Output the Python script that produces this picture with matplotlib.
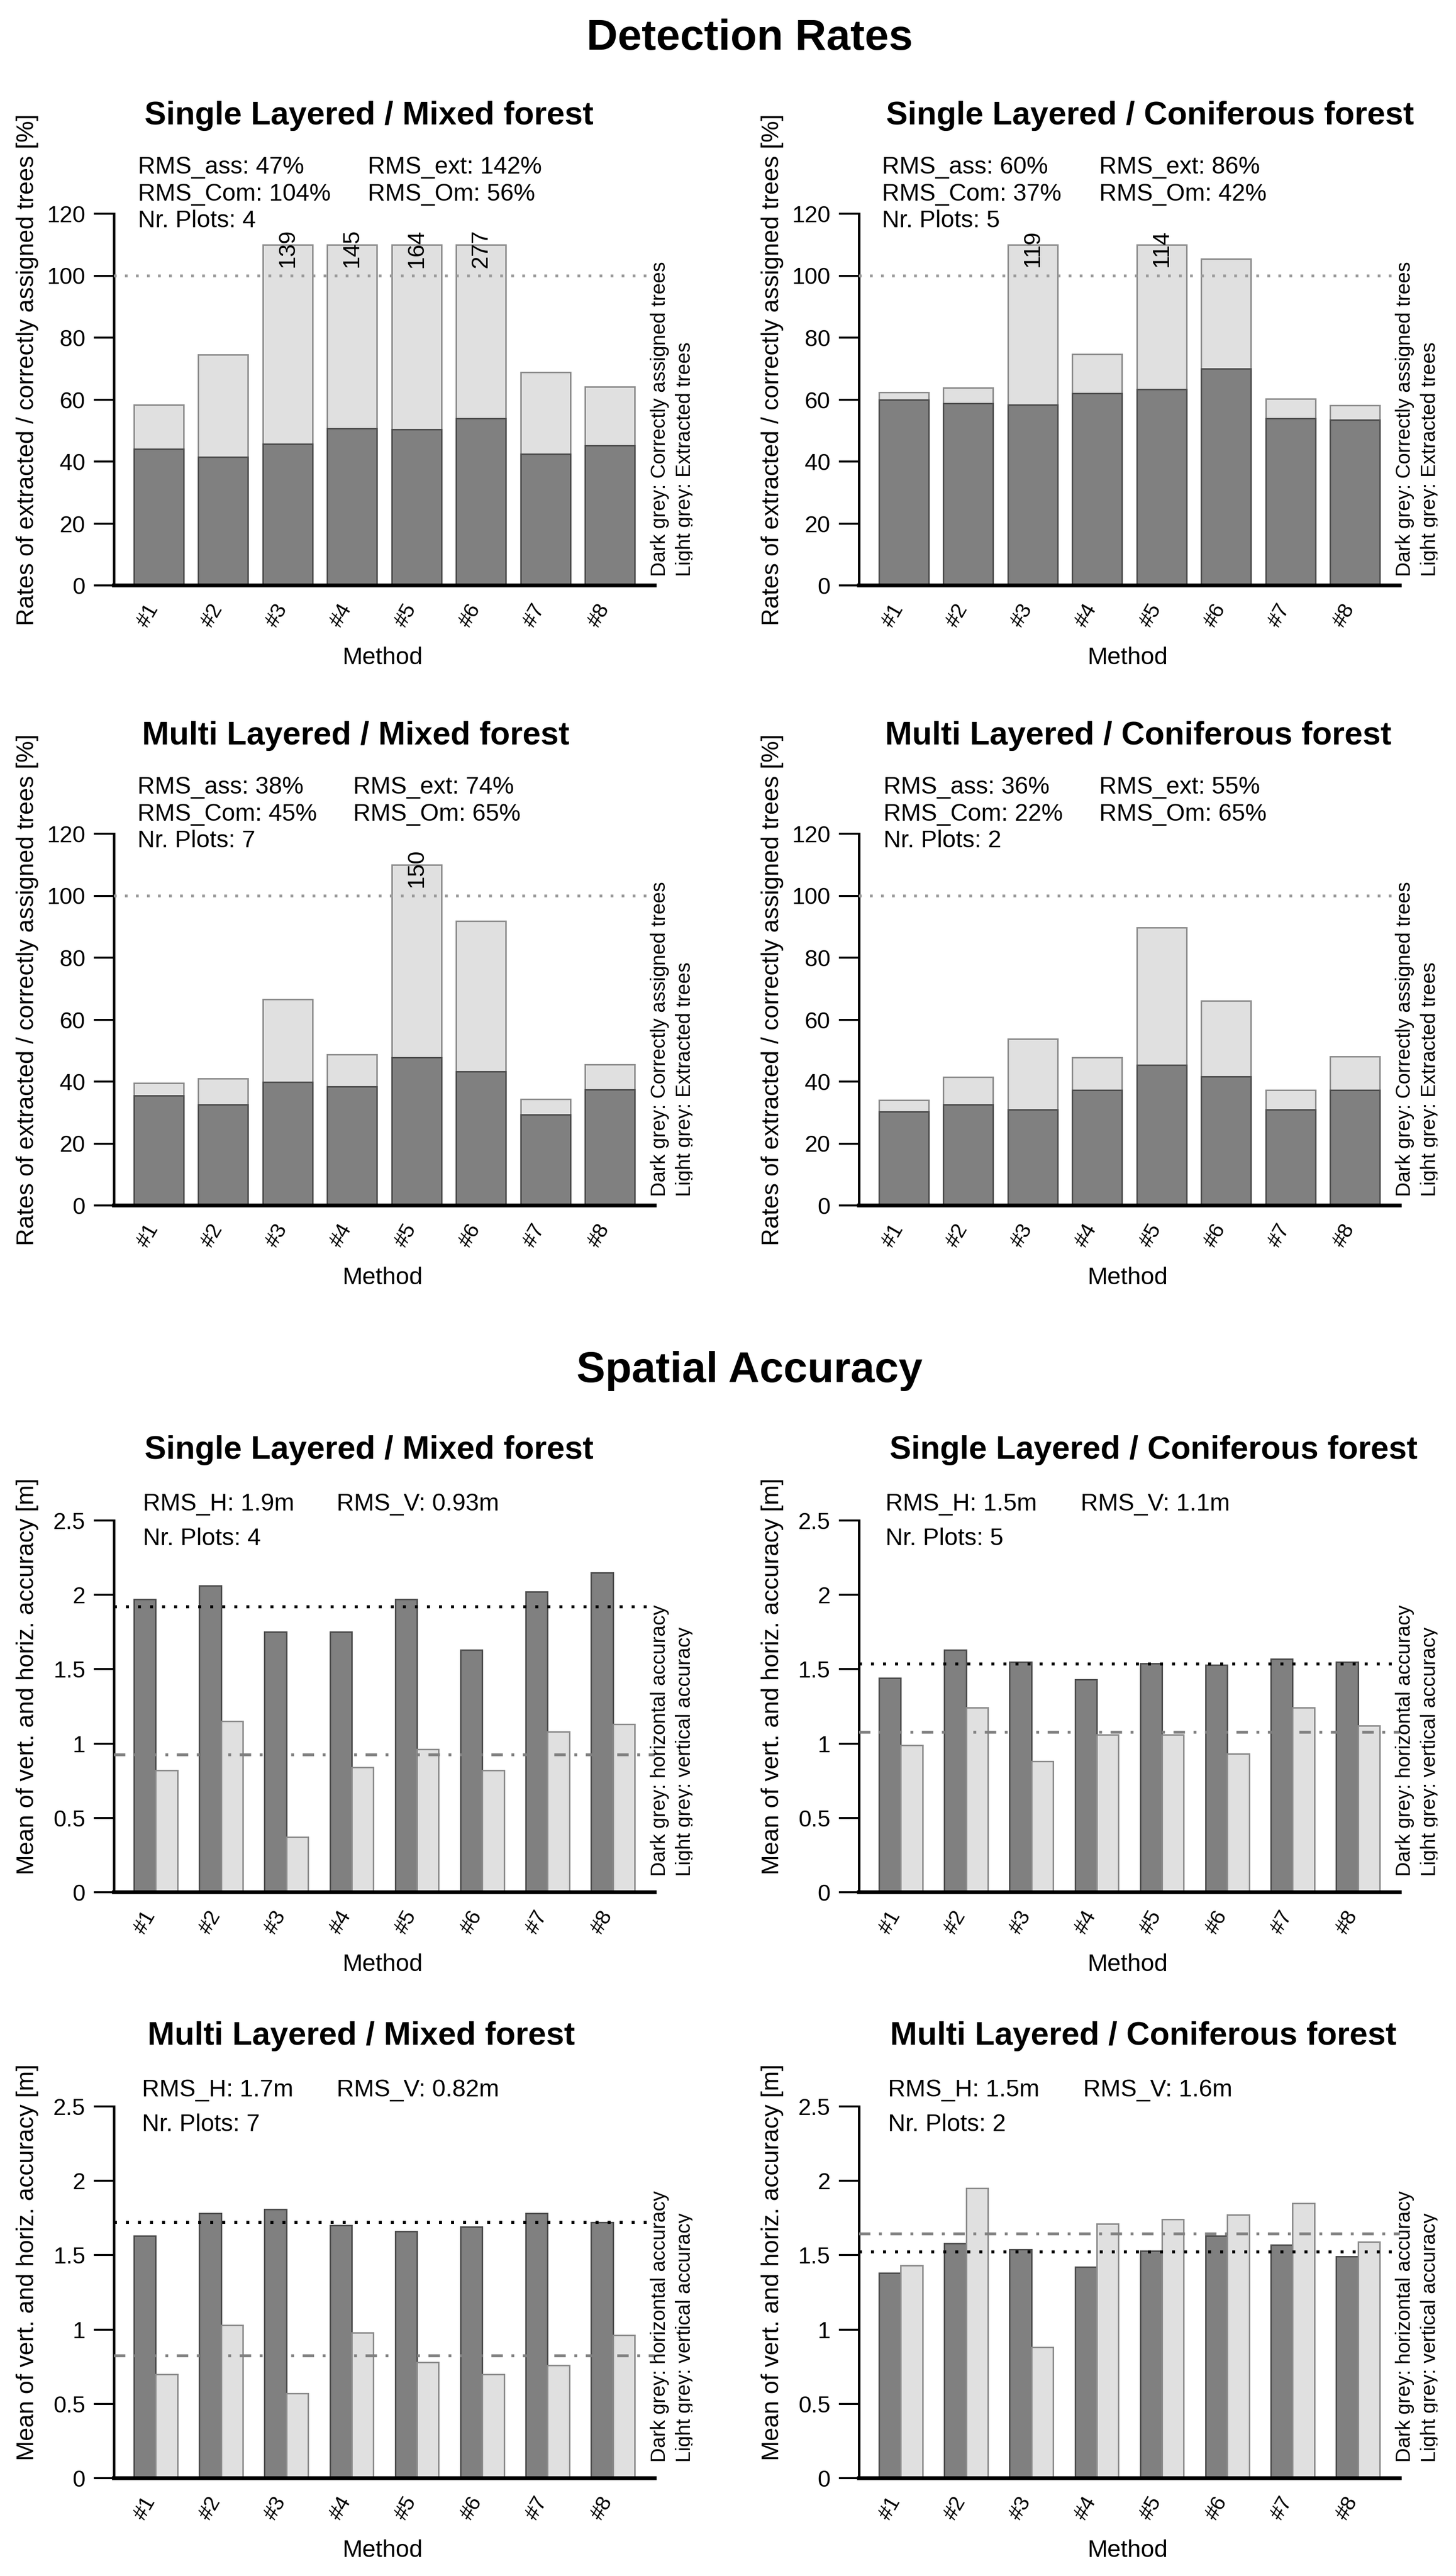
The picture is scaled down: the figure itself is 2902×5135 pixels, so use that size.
import numpy as np
import matplotlib
matplotlib.use("Agg")
import matplotlib.pyplot as plt
from matplotlib.transforms import Bbox, TransformedBbox, ScaledTranslation

# ---------------------------------------------------------------------------
# Data
# ---------------------------------------------------------------------------
methods = ["#1", "#2", "#3", "#4", "#5", "#6", "#7", "#8"]

panel_titles = [
    "Single Layered / Mixed forest",
    "Single Layered / Coniferous forest",
    "Multi Layered / Mixed forest",
    "Multi Layered / Coniferous forest",
]

# Detection rates [%]: extracted trees (light) and correctly assigned (dark)
det_extracted = [
    [58.3, 74.5, 139, 145, 164, 277, 68.8, 64.2],
    [62.4, 63.8, 119, 74.7, 114, 105.4, 60.2, 58.1],
    [39.5, 40.9, 66.6, 48.7, 150, 91.9, 34.4, 45.5],
    [34.0, 41.4, 53.8, 47.7, 89.7, 66.1, 37.2, 48.1],
]
det_assigned = [
    [44.1, 41.5, 45.6, 50.7, 50.3, 54.0, 42.4, 45.2],
    [59.9, 58.8, 58.3, 62.1, 63.4, 70.0, 54.0, 53.5],
    [35.4, 32.5, 39.8, 38.4, 47.7, 43.2, 29.3, 37.4],
    [30.3, 32.6, 30.9, 37.3, 45.3, 41.6, 30.9, 37.3],
]
rms_ass = [47, 60, 38, 36]
rms_ext = [142, 86, 74, 55]
rms_com = [104, 37, 45, 22]
rms_om = [56, 42, 65, 65]
n_plots = [4, 5, 7, 2]

# Spatial accuracy [m]: horizontal (dark) and vertical (light)
sp_horiz = [
    [1.97, 2.06, 1.75, 1.75, 1.97, 1.63, 2.02, 2.15],
    [1.44, 1.63, 1.55, 1.43, 1.54, 1.53, 1.57, 1.55],
    [1.63, 1.78, 1.81, 1.70, 1.66, 1.69, 1.78, 1.72],
    [1.38, 1.58, 1.54, 1.42, 1.53, 1.63, 1.57, 1.49],
]
sp_vert = [
    [0.82, 1.15, 0.37, 0.84, 0.96, 0.82, 1.08, 1.13],
    [0.99, 1.24, 0.88, 1.06, 1.06, 0.93, 1.24, 1.12],
    [0.70, 1.03, 0.57, 0.98, 0.78, 0.70, 0.76, 0.96],
    [1.43, 1.95, 0.88, 1.71, 1.74, 1.77, 1.85, 1.59],
]
rms_h = [1.92, 1.535, 1.72, 1.52]
rms_v = [0.926, 1.077, 0.824, 1.643]

CLIP_AT = 110  # bars above this are cut and labelled

# ---------------------------------------------------------------------------
# Style / layout (pixels of the 2902 x 5135 canvas)
# ---------------------------------------------------------------------------
W, H, DPI = 2902, 5135, 100
DARK, LIGHT = "#808080", "#e0e0e0"
DARK_EDGE, LIGHT_EDGE = "#4d4d4d", "#8c8c8c"

COL_LR = [(227, 1305), (1712, 2790), (227, 1305), (1712, 2790)]
DET_Y0 = [1167, 1167, 2403, 2403]
SP_Y0 = [3772, 3772, 4940, 4940]
SPAN = 741
YLAB_X = [55, 1540, 55, 1540]

DET_TITLE_X = [735, 2292, 709, 2269]
SP_TITLE_X = [735, 2299, 720, 2279]
DET_RMS_X = [(275, 733), (1758, 2191), (274, 704), (1761, 2191)]
SP_RMS_X = [(285, 671), (1765, 2154), (283, 671), (1770, 2159)]

plt.rcParams["font.family"] = ["Liberation Sans", "DejaVu Sans"]


def pt(px):
    return px * 72.0 / DPI


fig = plt.figure(figsize=(W / DPI, H / DPI), dpi=DPI)


def ftext(x, y, s, size_px, **kw):
    """Text whose cap-height centre sits at pixel (x, y) from the top-left."""
    return fig.text(x / W, 1 - (y + 0.358 * size_px) / H, s,
                    fontsize=pt(size_px), va="baseline", **kw)


def make_axes(i, y0, xlim, ylim, yticks):
    left, right = COL_LR[i]
    ax = fig.add_axes([left / W, 1 - y0 / H, (right - left) / W, SPAN / H])
    ax.set_xlim(*xlim)
    ax.set_ylim(*ylim)
    for s in ("top", "right", "bottom"):
        ax.spines[s].set_visible(False)
    ax.spines["left"].set_linewidth(pt(5))
    ax.spines["left"].set_bounds(yticks[0], yticks[-1])
    ax.patch.set_visible(False)
    ax.set_xticks([])
    ax.set_yticks(yticks)
    ax.set_yticklabels([f"{v:g}" for v in yticks])
    ax.tick_params(axis="y", length=pt(40), width=pt(4), pad=pt(17),
                   labelsize=pt(46))
    ax.axhline(0, color="black", lw=pt(7.5), zorder=5, clip_on=False)
    return ax


def decorate(ax, i, y0, centres, ylabel, side_lines, side_dy):
    left, right = COL_LR[i]
    off = ScaledTranslation(-10 / DPI, -40 / DPI, fig.dpi_scale_trans)
    for xc, lab in zip(centres, methods):
        ax.text(xc, 0, lab, transform=ax.get_xaxis_transform() + off,
                rotation=60, rotation_mode="anchor", ha="right", va="center",
                fontsize=pt(42), clip_on=False)
    ftext(left + 535, y0 + 140, "Method", 48, ha="center")
    fig.text(YLAB_X[i] / W, 1 - (y0 - 430) / H, ylabel, rotation=90,
             ha="center", va="center", fontsize=pt(48))
    clip = TransformedBbox(Bbox.from_extents(0, 0, (right + 75) / W, 1),
                           fig.transFigure)
    for k, s in enumerate(side_lines):
        t = fig.text((right + 21 + 50 * k) / W, 1 - (y0 - side_dy) / H, s,
                     rotation=90, rotation_mode="anchor", ha="left",
                     va="baseline", fontsize=pt(40))
        t.set_clip_box(clip)
        t.set_clip_on(True)


# ---------------------------------------------------------------------------
# Detection rates
# ---------------------------------------------------------------------------
ftext(1494, 68, "Detection Rates", 86, ha="center", fontweight="bold")

x_det = 0.3 + 1.3 * np.arange(len(methods))
for i in range(4):
    y0 = DET_Y0[i]
    ax = make_axes(i, y0, (-0.104, 10.804), (0, 120), np.arange(0, 121, 20))
    ext = np.array(det_extracted[i], dtype=float)
    ass = np.array(det_assigned[i], dtype=float)
    ax.bar(x_det, np.minimum(ext, CLIP_AT), width=1, align="edge",
           color=LIGHT, edgecolor=LIGHT_EDGE, linewidth=pt(3), zorder=2)
    ax.bar(x_det, ass, width=1, align="edge",
           color=DARK, edgecolor=DARK_EDGE, linewidth=pt(3), zorder=3)
    for xc, v in zip(x_det + 0.5, ext):
        if v > CLIP_AT:
            ax.text(xc, 108.8, f"{v:g}", rotation=90, ha="center",
                    va="center", fontsize=pt(46), zorder=6)
    ax.axhline(100, color="#999999", lw=pt(5.5), ls=(0, (1, 3)), zorder=4)

    ftext(DET_TITLE_X[i], y0 - 942, panel_titles[i], 64.6, ha="center",
          fontweight="bold")
    c1, c2 = DET_RMS_X[i]
    ftext(c1, y0 - 838, f"RMS_ass: {rms_ass[i]}%", 48)
    ftext(c2, y0 - 838, f"RMS_ext: {rms_ext[i]}%", 48)
    ftext(c1, y0 - 784, f"RMS_Com: {rms_com[i]}%", 48)
    ftext(c2, y0 - 784, f"RMS_Om: {rms_om[i]}%", 48)
    ftext(c1, y0 - 731, f"Nr. Plots: {n_plots[i]}", 48)

    decorate(ax, i, y0, x_det + 0.5,
             "Rates of extracted / correctly assigned trees [%]",
             ["Dark grey: Correctly assigned trees",
              "Light grey: Extracted trees"], 18)

# ---------------------------------------------------------------------------
# Spatial accuracy
# ---------------------------------------------------------------------------
ftext(1494, 2724, "Spatial Accuracy", 86, ha="center", fontweight="bold")

x_grp = 1 + 3 * np.arange(len(methods))
for i in range(4):
    y0 = SP_Y0[i]
    ax = make_axes(i, y0, (0.08, 24.92), (0, 2.5), np.arange(0, 2.51, 0.5))
    ax.bar(x_grp, sp_horiz[i], width=1, align="edge",
           color=DARK, edgecolor=DARK_EDGE, linewidth=pt(3), zorder=2)
    ax.bar(x_grp + 1, sp_vert[i], width=1, align="edge",
           color=LIGHT, edgecolor=LIGHT_EDGE, linewidth=pt(3), zorder=2)
    ax.axhline(rms_h[i], color="black", lw=pt(6), ls=(0, (1, 3)), zorder=4)
    ax.axhline(rms_v[i], color=DARK, lw=pt(5.7), ls=(0, (4, 3, 1, 3)),
               zorder=4)

    ftext(SP_TITLE_X[i], y0 - 887, panel_titles[i], 64.6, ha="center",
          fontweight="bold")
    c1, c2 = SP_RMS_X[i]
    ftext(c1, y0 - 778, f"RMS_H: {rms_h[i]:.2g}m", 48)
    ftext(c2, y0 - 778, f"RMS_V: {rms_v[i]:.2g}m", 48)
    ftext(c1, y0 - 709, f"Nr. Plots: {n_plots[i]}", 48)

    decorate(ax, i, y0, x_grp + 1,
             "Mean of vert. and horiz. accuracy [m]",
             ["Dark grey: horizontal accuracy",
              "Light grey: vertical accuracy"], 32)

fig.savefig("out.png", dpi=DPI)
